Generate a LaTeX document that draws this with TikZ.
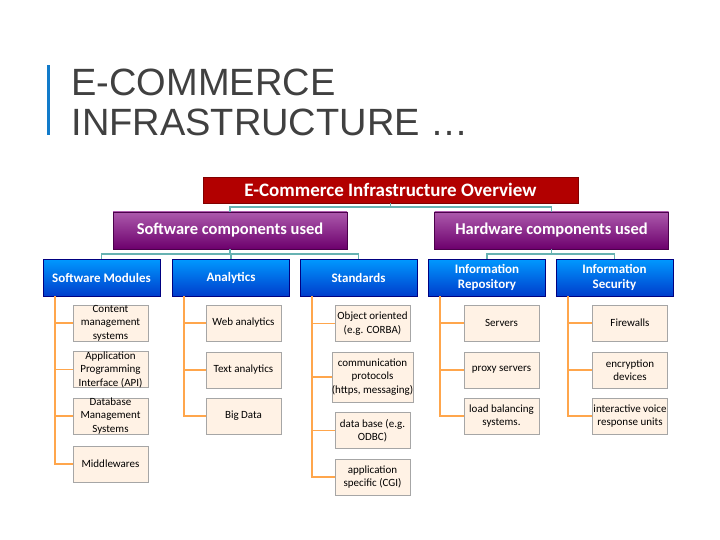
\documentclass[tikz,border=0pt]{standalone}
\usepackage{fontspec}
\setmainfont{Carlito}
\newfontfamily\titlefont{Liberation Sans}
\begin{document}
\begin{tikzpicture}[x=1pt,y=-1pt,
  top/.style={draw=red!50!black,fill=red!70!black,text=white,font=\bfseries\fontsize{19}{21}\selectfont,minimum width=375,minimum height=26,inner sep=0},
  mid/.style={draw=violet!60!black,top color=violet!65,bottom color=violet!85!black,text=white,font=\bfseries\fontsize{16.5}{18}\selectfont,minimum width=234,minimum height=37,inner sep=0},
  cat/.style={draw=blue!50!black,top color=cyan!60!blue,bottom color=blue!70!cyan!80!black,text=white,font=\bfseries\fontsize{13}{15.5}\selectfont,minimum width=117,minimum height=37,inner sep=0,align=center},
  leaf/.style={draw=gray!70,fill=orange!10,font=\fontsize{11}{13.5}\selectfont,minimum width=75,minimum height=36,inner sep=0,align=center},
  tl/.style={draw=teal!60,line width=1.2pt},
  ol/.style={draw=orange!70,line width=1.4pt}]
\useasboundingbox (0,0) rectangle (720,540);
\fill[cyan!60!blue] (47,65) rectangle (50,135);
\node[anchor=west,font=\titlefont\fontsize{38}{40}\selectfont,text=black!75] (t1) at (68,82) {E-COMMERCE};
\node[anchor=west,font=\titlefont\fontsize{38}{40}\selectfont,text=black!75] (t2) at (68,122) {INFRASTRUCTURE …};
\node[top] (root) at (390.5,190) {E-Commerce Infrastructure Overview};
\node[mid] (sw) at (230,230.5) {Software components used};
\node[mid] (hw) at (551.5,230.5) {Hardware components used};
\node[cat] (c1) at (101.5,277.5) {Software Modules};
\node[cat] (c2) at (231,277.5) {Analytics};
\node[cat] (c3) at (358.5,277.5) {Standards};
\node[cat] (c4) at (487,277.5) {Information\\Repository};
\node[cat] (c5) at (614.5,277.5) {Information\\Security};
\draw[tl] (root.south) -- (390.5,207) -| (sw.north);
\draw[tl] (390.5,207) -| (hw.north);
\draw[tl] (sw.south) -- (230,254) -| (c1.north);
\draw[tl] (230,254) -| (c2.north);
\draw[tl] (230,254) -| (c3.north);
\draw[tl] (hw.south) -- (551.5,254) -| (c4.north);
\draw[tl] (551.5,254) -| (c5.north);
% column 1
\node[leaf] (a1) at (110.5,323) {Content\\management\\systems};
\node[leaf] (a2) at (110.5,369.5) {Application\\Programming\\Interface (API)};
\node[leaf] (a3) at (110.5,416) {Database\\Management\\Systems};
\node[leaf] (a4) at (110.5,464) {Middlewares};
% column 2
\node[leaf] (b1) at (243.5,323) {Web analytics};
\node[leaf] (b2) at (243.5,370) {Text analytics};
\node[leaf] (b3) at (243.5,416) {Big Data};
% column 3
\node[leaf] (s1) at (372.5,323.5) {Object oriented\\(e.g. CORBA)};
\node[leaf,minimum height=50] (s2) at (372.5,377) {communication\\protocols\\(https, messaging)};
\node[leaf] (s3) at (372.5,430.5) {data base (e.g.\\ODBC)};
\node[leaf] (s4) at (372.5,477) {application\\specific (CGI)};
% column 4
\node[leaf] (r1) at (501.5,323) {Servers};
\node[leaf] (r2) at (501.5,370) {proxy servers};
\node[leaf] (r3) at (501.5,416) {load balancing\\systems.};
% column 5
\node[leaf] (f1) at (630,323) {Firewalls};
\node[leaf] (f2) at (630,370) {encryption\\devices};
\node[leaf] (f3) at (630,416) {interactive voice\\response units};
% orange connectors
\coordinate (v1) at (55,296);
\coordinate (v2) at (184,296);
\coordinate (v3) at (312,296);
\coordinate (v4) at (440,296);
\coordinate (v5) at (568,296);
\draw[ol] (v1) |- (a4.west);
\foreach \n in {a1,a2,a3} \draw[ol] (v1 |- \n.west) -- (\n.west);
\draw[ol] (v2) |- (b3.west);
\foreach \n in {b1,b2} \draw[ol] (v2 |- \n.west) -- (\n.west);
\draw[ol] (v3) |- (s4.west);
\foreach \n in {s1,s2,s3} \draw[ol] (v3 |- \n.west) -- (\n.west);
\draw[ol] (v4) |- (r3.west);
\foreach \n in {r1,r2} \draw[ol] (v4 |- \n.west) -- (\n.west);
\draw[ol] (v5) |- (f3.west);
\foreach \n in {f1,f2} \draw[ol] (v5 |- \n.west) -- (\n.west);
\end{tikzpicture}
\end{document}
